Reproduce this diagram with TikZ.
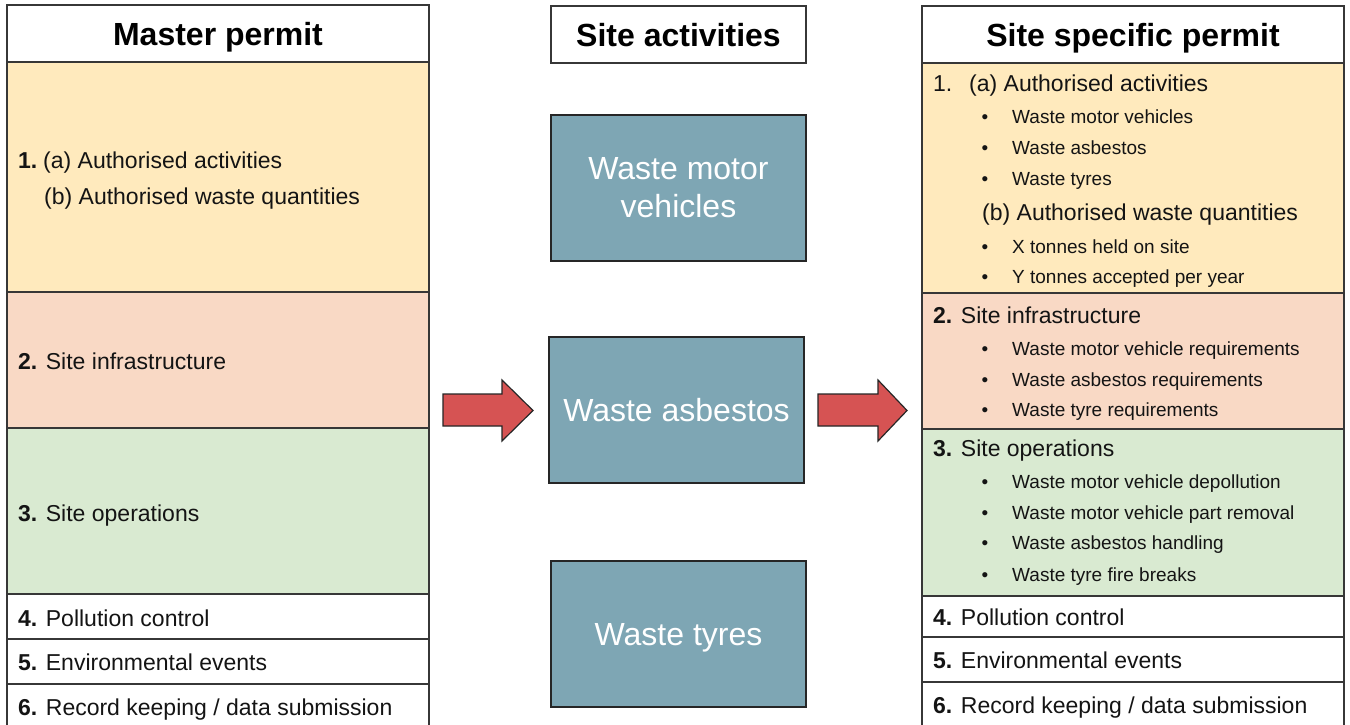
\documentclass[tikz,border=0pt]{standalone}
\usepackage{fontspec}
\setmainfont{Liberation Sans}
\definecolor{permyellow}{RGB}{255,234,189}
\definecolor{permpeach}{RGB}{249,217,197}
\definecolor{permgreen}{RGB}{217,234,209}
\definecolor{actteal}{RGB}{126,166,180}
\definecolor{arrowred}{RGB}{214,83,83}
\definecolor{edgegray}{RGB}{55,55,55}
\definecolor{inkgray}{RGB}{20,20,20}
\begin{document}
\begin{tikzpicture}[x=1pt,y=-1pt,
  panel/.style={draw=edgegray, line width=1.6pt, inner sep=0pt, outer sep=0pt, anchor=north west},
  headtext/.style={font=\bfseries\fontsize{32}{38}\selectfont, text height=23pt, text depth=0pt},
  activity/.style={panel, draw=black!85, fill=actteal, text=white, minimum width=255pt, minimum height=146pt,
    font=\fontsize{32}{38}\selectfont, align=center},
  body/.style={anchor=west, inner sep=0pt, text=inkgray, font=\fontsize{23}{28}\selectfont, text height=16.5pt, text depth=0pt},
  small/.style={anchor=west, inner sep=0pt, text=inkgray, font=\fontsize{19}{23}\selectfont, text height=13.7pt, text depth=0pt},
  dot/.style={small, anchor=center},
  blockarrow/.style={draw=black!85, line width=1.2pt, fill=arrowred, line join=miter}
]
\useasboundingbox (0,0) rectangle (1350,724);
\fill[white] (0,0) rectangle (1350,724);

% ---------------- Master permit column ----------------
\node[panel, headtext, minimum width=422pt, minimum height=57pt] (mhead) at (7,5) {Master permit};
\node[panel, fill=permyellow, minimum width=422pt, minimum height=230pt] (m1) at (7,62) {};
\node[panel, fill=permpeach,  minimum width=422pt, minimum height=136pt] (m2) at (7,292) {};
\node[panel, fill=permgreen,  minimum width=422pt, minimum height=166pt] (m3) at (7,428) {};
\node[panel, fill=white, minimum width=422pt, minimum height=45pt] (m4) at (7,594) {};
\node[panel, fill=white, minimum width=422pt, minimum height=45pt] (m5) at (7,639) {};
\node[panel, fill=white, minimum width=422pt, minimum height=50pt] (m6) at (7,684) {};

\node[body] (m1n) at (18,160) {\textbf{1.}};
\node[body] (m1a) at (43,160) {(a) Authorised activities};
\node[body] (m1b) at (44,196) {(b) Authorised waste quantities};
\node[body] (m2t) at (18,361) {\textbf{2.} Site infrastructure};
\node[body] (m3t) at (18,513) {\textbf{3.} Site operations};
\node[body] (m4t) at (18,618) {\textbf{4.} Pollution control};
\node[body] (m5t) at (18,662) {\textbf{5.} Environmental events};
\node[body] (m6t) at (18,707) {\textbf{6.} Record keeping / data submission};

% ---------------- Site activities column ----------------
\node[panel, headtext, minimum width=255pt, minimum height=57pt] (ahead) at (551,6) {Site activities};
\node[activity] (amv) at (551,115) {Waste motor\\vehicles};
\node[activity, text height=23pt, text depth=0pt] (aasb) at (549,337) {Waste asbestos};
\node[activity, text height=23pt, text depth=0pt] (atyr) at (551,561) {Waste tyres};

% ---------------- Block arrows ----------------
\draw[blockarrow] (443,394) -- (502,394) -- (502,380) -- (533,410.5) -- (502,441) -- (502,426) -- (443,426) -- cycle;
\draw[blockarrow] (818,394) -- (878,394) -- (878,380) -- (907,410.5) -- (878,441) -- (878,426) -- (818,426) -- cycle;

% ---------------- Site specific permit column ----------------
\node[panel, headtext, minimum width=422pt, minimum height=57pt] (shead) at (922,6) {Site specific permit};
\node[panel, fill=permyellow, minimum width=422pt, minimum height=230pt] (s1) at (922,63) {};
\node[panel, fill=permpeach,  minimum width=422pt, minimum height=136pt] (s2) at (922,293) {};
\node[panel, fill=permgreen,  minimum width=422pt, minimum height=167pt] (s3) at (922,429) {};
\node[panel, fill=white, minimum width=422pt, minimum height=41pt] (s4) at (922,596) {};
\node[panel, fill=white, minimum width=422pt, minimum height=45pt] (s5) at (922,637) {};
\node[panel, fill=white, minimum width=422pt, minimum height=52pt] (s6) at (922,682) {};

% section 1
\node[body] (s1n) at (933,83) {1.};
\node[body] (s1a) at (969,83) {(a) Authorised activities};
\node[dot] (d11) at (985,117) {•}; \node[small] (b11) at (1012,117) {Waste motor vehicles};
\node[dot] (d12) at (985,148) {•}; \node[small] (b12) at (1012,148) {Waste asbestos};
\node[dot] (d13) at (985,179) {•}; \node[small] (b13) at (1012,179) {Waste tyres};
\node[body] (s1b) at (982,212) {(b) Authorised waste quantities};
\node[dot] (d14) at (985,247) {•}; \node[small] (b14) at (1012,247) {X tonnes held on site};
\node[dot] (d15) at (985,277) {•}; \node[small] (b15) at (1012,277) {Y tonnes accepted per year};

% section 2
\node[body] (s2t) at (933,315) {\textbf{2.} Site infrastructure};
\node[dot] (d21) at (985,349) {•}; \node[small] (b21) at (1012,349) {Waste motor vehicle requirements};
\node[dot] (d22) at (985,380) {•}; \node[small] (b22) at (1012,380) {Waste asbestos requirements};
\node[dot] (d23) at (985,410) {•}; \node[small] (b23) at (1012,410) {Waste tyre requirements};

% section 3
\node[body] (s3t) at (933,448) {\textbf{3.} Site operations};
\node[dot] (d31) at (985,482) {•}; \node[small] (b31) at (1012,482) {Waste motor vehicle depollution};
\node[dot] (d32) at (985,513) {•}; \node[small] (b32) at (1012,513) {Waste motor vehicle part removal};
\node[dot] (d33) at (985,543) {•}; \node[small] (b33) at (1012,543) {Waste asbestos handling};
\node[dot] (d34) at (985,575) {•}; \node[small] (b34) at (1012,575) {Waste tyre fire breaks};

% sections 4-6
\node[body] (s4t) at (933,617) {\textbf{4.} Pollution control};
\node[body] (s5t) at (933,660) {\textbf{5.} Environmental events};
\node[body] (s6t) at (933,705) {\textbf{6.} Record keeping / data submission};
\end{tikzpicture}
\end{document}
